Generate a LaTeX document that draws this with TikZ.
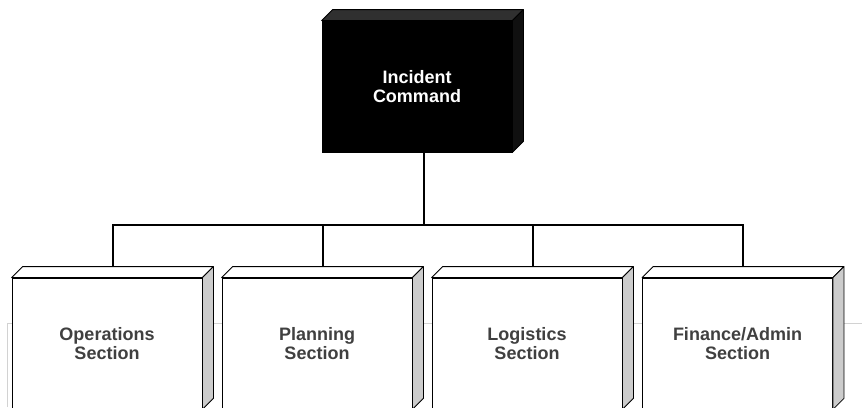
\documentclass[tikz,border=0pt]{standalone}
\usepackage{fontspec}
\setmainfont{Liberation Sans}
\usetikzlibrary{calc}
\definecolor{txtgray}{RGB}{64,64,64}
\definecolor{sidegray}{RGB}{204,204,204}
\definecolor{topdark}{RGB}{48,48,48}
\definecolor{sidedark}{RGB}{16,16,16}
\definecolor{guide}{RGB}{210,210,210}
\tikzset{
  front/.style={draw=black, line width=0.8pt, minimum width=190pt, minimum height=131pt,
    inner sep=0pt, align=center, font=\fontsize{18}{19}\selectfont\bfseries},
  lightbox/.style={front, fill=white, text=txtgray},
  darkbox/.style={front, fill=black, text=white},
  edge/.style={draw=black, line width=0.8pt, line join=round},
  conn/.style={draw=black, line width=2pt},
  guideline/.style={draw=guide, line width=1pt}
}
\newcommand{\boxsides}[3]{%
  \path[edge, fill=#2] (#1.north west) -- ++(11,-11) -- ($(#1.north east)+(11,-11)$) -- (#1.north east) -- cycle;
  \path[edge, fill=#3] (#1.north east) -- ++(11,-11) -- ($(#1.south east)+(11,-11)$) -- (#1.south east) -- cycle;
}
\begin{document}
\begin{tikzpicture}[x=1pt,y=-1pt]
\useasboundingbox (0,0) rectangle (862,407);
\clip (0,0) rectangle (862,407);
\draw[guideline] (7,407) -- (7,323) -- (862,323);

\node[darkbox] (ic) at (417,86.5) {Incident\\Command};
\boxsides{ic}{topdark}{sidedark}

\node[lightbox] (ops) at (107,343.5) {Operations\\Section};
\boxsides{ops}{white}{sidegray}
\node[lightbox] (plan) at (317,343.5) {Planning\\Section};
\boxsides{plan}{white}{sidegray}
\node[lightbox] (log) at (527,343.5) {Logistics\\Section};
\boxsides{log}{white}{sidegray}
\node[lightbox] (fin) at (737.5,343.5) {Finance/Admin\\Section};
\boxsides{fin}{white}{sidegray}

\coordinate (bus) at (423.5,225);
\draw[conn] ($(ic.south)+(6.5,0)$) -- (bus);
\foreach \n in {ops,plan,log,fin}{
  \draw[conn] ($(\n.north)+(5.5,-11)$) |- (bus);
}
\end{tikzpicture}
\end{document}
